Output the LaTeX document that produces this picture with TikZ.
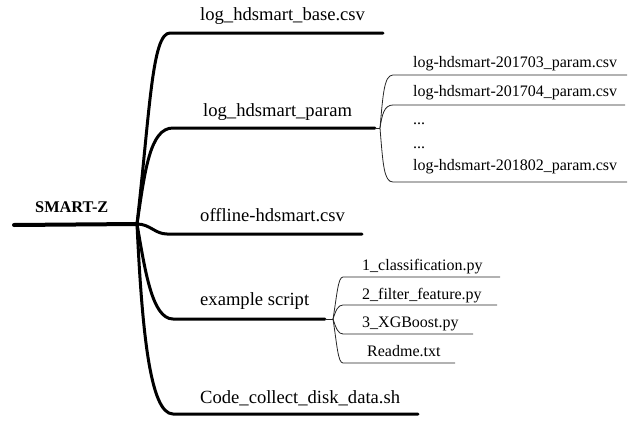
\documentclass[tikz,border=0pt]{standalone}
\usepackage{fontspec}
\setmainfont{Liberation Serif}[Ligatures=TeX]
\usetikzlibrary{positioning}

\begin{document}
\begin{tikzpicture}[x=1pt,y=-1pt,
    trunk/.style={line width=3pt,line cap=round},
    twig/.style={line width=0.8pt,black!85},
    mainlbl/.style={anchor=base west,inner sep=0pt,font=\rmfamily\fontsize{18.6}{20}\selectfont},
    sublbl/.style={anchor=base west,inner sep=0pt,font=\rmfamily\fontsize{16}{18}\selectfont},
    rootlbl/.style={anchor=base west,inner sep=0pt,font=\rmfamily\fontsize{16.3}{18}\selectfont\bfseries}]
    \useasboundingbox (0,0) rectangle (633,426);
    % root and hub
    \coordinate (R) at (14,225);
    \coordinate (C) at (137,224);
    \draw[trunk,line width=4pt] (R)--(C);
    \node[rootlbl] (root) at (35,212) {SMART-Z};
    % main branches
    \coordinate (A1) at (170,33);  \coordinate (A2) at (383,33);
    \coordinate (B1) at (173,128); \coordinate (B2) at (375,128);
    \coordinate (D1) at (167,234); \coordinate (D2) at (362,234);
    \coordinate (E1) at (173,319); \coordinate (E2) at (325,319);
    \coordinate (F1) at (173,414); \coordinate (F2) at (418,414);
    \draw[trunk] (C) .. controls (150,110) and (152,33) .. (A1) -- (A2);
    \draw[trunk] (C) .. controls (145,170) and (150,128) .. (B1) -- (B2);
    \draw[trunk] (C) .. controls (150,224) and (155,234) .. (D1) -- (D2);
    \draw[trunk] (C) .. controls (145,270) and (152,319) .. (E1) -- (E2);
    \draw[trunk] (C) .. controls (142,330) and (150,414) .. (F1) -- (F2);
    \node[mainlbl] (base) at (200,20) {log\_hdsmart\_base.csv};
    \node[mainlbl] (param) at (203,116) {log\_hdsmart\_param};
    \node[mainlbl] (offline) at (200,221) {offline-hdsmart.csv};
    \node[mainlbl] (script) at (200,305) {example script};
    \node[mainlbl] (code) at (200,403) {Code\_collect\_disk\_data.sh};
    % param files
    \coordinate (P) at (380,128);
    \coordinate (P1) at (393,75);  \coordinate (P1e) at (627,75);
    \coordinate (P2) at (393,105); \coordinate (P2e) at (625,105);
    \coordinate (P3) at (393,182); \coordinate (P3e) at (627,182);
    \draw[twig] (B2)--(P);
    \draw[twig] (P) .. controls (383,95) and (384,75) .. (P1) -- (P1e);
    \draw[twig] (P) .. controls (382,115) and (384,105) .. (P2) -- (P2e);
    \draw[twig] (P) .. controls (383,165) and (384,182) .. (P3) -- (P3e);
    \node[sublbl] (p1) at (413,67) {log-hdsmart-201703\_param.csv};
    \node[sublbl] (p2) at (413,96) {log-hdsmart-201704\_param.csv};
    \node[sublbl] (pd1) at (413,124) {...};
    \node[sublbl] (pd2) at (413,148) {...};
    \node[sublbl] (p3) at (413,170) {log-hdsmart-201802\_param.csv};
    % script files
    \coordinate (Q) at (333,319);
    \coordinate (Q1) at (343,277); \coordinate (Q1e) at (500,277);
    \coordinate (Q2) at (343,305); \coordinate (Q2e) at (497,305);
    \coordinate (Q3) at (343,334); \coordinate (Q3e) at (473,334);
    \coordinate (Q4) at (343,363); \coordinate (Q4e) at (455,363);
    \draw[twig] (E2)--(Q);
    \draw[twig] (Q) .. controls (337,295) and (338,277) .. (Q1) -- (Q1e);
    \draw[twig] (Q) .. controls (336,310) and (338,305) .. (Q2) -- (Q2e);
    \draw[twig] (Q) .. controls (336,328) and (338,334) .. (Q3) -- (Q3e);
    \draw[twig] (Q) .. controls (337,345) and (338,363) .. (Q4) -- (Q4e);
    \node[sublbl] (s1) at (362,270) {1\_classification.py};
    \node[sublbl] (s2) at (362,299) {2\_filter\_feature.py};
    \node[sublbl] (s3) at (362,327) {3\_XGBoost.py};
    \node[sublbl] (s4) at (367,356) {Readme.txt};
\end{tikzpicture}
\end{document}
